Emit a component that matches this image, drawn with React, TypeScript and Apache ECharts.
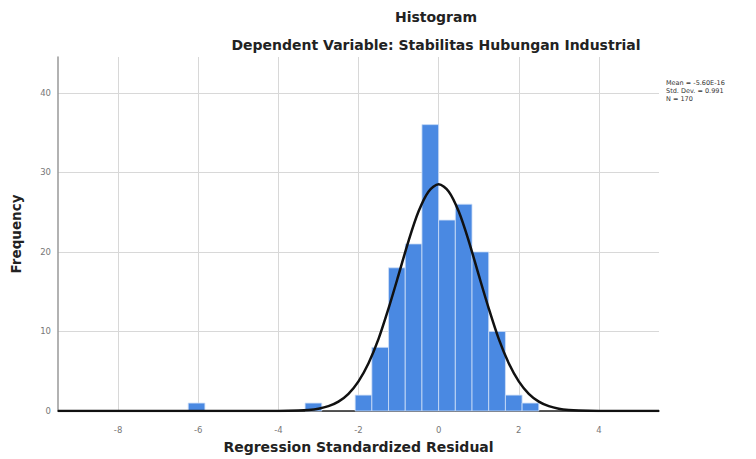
import React, { useEffect, useRef } from "react";
import * as echarts from "echarts";

const binWidth = 5 / 12;
const binLeft = [-6.25, -3.3333, -2.0833, -1.6667, -1.25, -0.8333, -0.4167, 0, 0.4167, 0.8333, 1.25, 1.6667, 2.0833];
const counts = [1, 1, 2, 8, 18, 21, 36, 24, 26, 20, 10, 2, 1];

const curveX = [-9.5, -5, -4, -3.5, -3.25, -3, -2.75, -2.5, -2.25, -2, -1.75, -1.5, -1.25, -1, -0.75, -0.5, -0.25, 0, 0.25, 0.5, 0.75, 1, 1.25, 1.5, 1.75, 2, 2.25, 2.5, 2.75, 3, 3.25, 3.5, 4, 5, 5.5];
const curveY = [0, 0, 0.01, 0.06, 0.13, 0.29, 0.61, 1.18, 2.16, 3.72, 6.0, 9.06, 12.9, 17.1, 21.4, 25.1, 27.6, 28.5, 27.6, 25.1, 21.4, 17.1, 12.9, 9.06, 6.0, 3.72, 2.16, 1.18, 0.61, 0.29, 0.13, 0.06, 0.01, 0, 0];

const xTicks = [-8, -6, -4, -2, 0, 2, 4];
const yTicks = [0, 10, 20, 30, 40];
const statsLines = ["Mean = -5.60E-16", "Std. Dev. = 0.991", "N = 170"];

const FONT = "DejaVu Sans, Liberation Sans, Arial, sans-serif";

export default function App() {
  const ref = useRef<HTMLDivElement>(null);
  useEffect(() => {
    document.body.style.margin = "0";
    const chart = echarts.init(ref.current!, undefined, { renderer: "svg" });
    const barData = binLeft.map((l, i) => [l, l + binWidth, counts[i]]);
    chart.setOption({
      animation: false,
      textStyle: { fontFamily: FONT },
      grid: { left: 58, right: 97, top: 57, bottom: 48, outerBoundsMode: "none", containLabel: false },
      xAxis: {
        type: "value",
        min: -9.5,
        max: 5.5,
        name: "Regression Standardized Residual",
        nameLocation: "middle",
        nameGap: 29,
        nameTextStyle: { fontSize: 14, fontWeight: "bold", color: "#222", fontFamily: FONT },
        axisLine: { show: true, onZero: false, lineStyle: { color: "#222", width: 1.5 } },
        axisTick: { show: false, customValues: xTicks },
        axisLabel: { customValues: xTicks, fontSize: 8.5, color: "#777", margin: 14, fontFamily: FONT },
        splitLine: { show: true, lineStyle: { color: "#d8d8d8", width: 1 } },
      },
      yAxis: {
        type: "value",
        min: 0,
        max: 44.5,
        interval: 10,
        name: "Frequency",
        nameLocation: "middle",
        nameGap: 35,
        nameTextStyle: { fontSize: 13.5, fontWeight: "bold", color: "#222", fontFamily: FONT },
        axisLine: { show: true, onZero: false, lineStyle: { color: "#999", width: 1.5 } },
        axisTick: { show: false, customValues: yTicks },
        axisLabel: { customValues: yTicks, fontSize: 8.5, color: "#777", margin: 7, fontFamily: FONT },
        splitLine: { show: true, lineStyle: { color: "#d8d8d8", width: 1 } },
      },
      graphic: [
        { type: "text", x: 436, y: 17, style: { text: "Histogram", fontSize: 14, fontWeight: "bold", fill: "#222", fontFamily: FONT, textAlign: "center", textVerticalAlign: "middle" } },
        { type: "text", x: 436, y: 45, style: { text: "Dependent Variable: Stabilitas Hubungan Industrial", fontSize: 14, fontWeight: "bold", fill: "#222", fontFamily: FONT, textAlign: "center", textVerticalAlign: "middle" } },
        ...statsLines.map((t, i) => ({ type: "text", x: 666, y: 83 + i * 8, style: { text: t, fontSize: 6.5, fill: "#333", fontFamily: FONT, textVerticalAlign: "middle" } })),
      ],
      series: [
        {
          type: "custom",
          data: barData,
          encode: { x: [0, 1], y: 2 },
          renderItem: (params: any, api: any) => {
            const p0 = api.coord([api.value(0), 0]);
            const p1 = api.coord([api.value(1), api.value(2)]);
            return {
              type: "rect",
              shape: { x: p0[0], y: p1[1], width: p1[0] - p0[0], height: p0[1] - p1[1] },
              style: { fill: "#4a89e2", stroke: "#cfe0f7", lineWidth: 0.8 },
            };
          },
          z: 2,
        },
        {
          type: "line",
          data: curveX.map((x, i) => [x, curveY[i]]),
          smooth: 0.3,
          showSymbol: false,
          symbol: "none",
          lineStyle: { color: "#111", width: 2.5 },
          z: 3,
        },
      ],
    });
    return () => chart.dispose();
  }, []);
  return <div ref={ref} style={{ position: "absolute", left: 0, top: 0, width: 756, height: 459 }} />;
}
